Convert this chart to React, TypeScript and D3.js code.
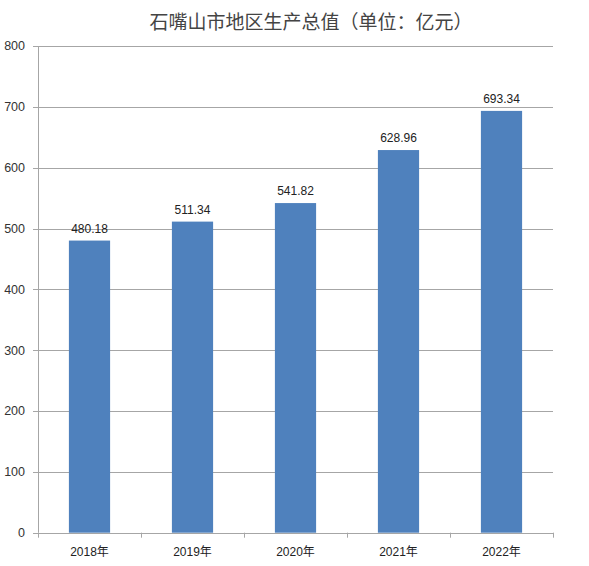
import { useRef, useEffect } from 'react';
import * as d3 from 'd3';

const title = '石嘴山市地区生产总值（单位：亿元）';
const years = ['2018年', '2019年', '2020年', '2021年', '2022年'];
const gdp = [480.18, 511.34, 541.82, 628.96, 693.34];
const yTicks = [0, 100, 200, 300, 400, 500, 600, 700, 800];

const W = 589;
const H = 566;

export default function App() {
  const svgRef = useRef<SVGSVGElement>(null);

  useEffect(() => {
    if (!svgRef.current) return;
    const svg = d3.select(svgRef.current);
    svg.selectAll('*').remove();

    const margin = { top: 46, right: 36, bottom: 33.3, left: 38 };
    const width = W - margin.left - margin.right;
    const chartHeight = H - margin.top - margin.bottom;

    svg.append('rect').attr('width', W).attr('height', H).attr('fill', '#fff');

    // Title
    svg.append('text')
      .attr('x', 311)
      .attr('y', 29)
      .attr('text-anchor', 'middle')
      .attr('font-family', '"Noto Sans CJK SC", sans-serif')
      .attr('font-size', 19)
      .attr('fill', '#444')
      .text(title);

    const g = svg.append('g')
      .attr('transform', `translate(${margin.left},${margin.top})`);

    const xScale = d3.scaleBand<string>()
      .domain(years)
      .range([0, width])
      .paddingInner(0.6)
      .paddingOuter(0.3);

    const yScale = d3.scaleLinear()
      .domain([0, 800])
      .range([chartHeight, 0]);

    // Gridlines
    g.selectAll('.grid')
      .data(yTicks)
      .enter()
      .append('line')
      .attr('x1', -5)
      .attr('x2', width)
      .attr('y1', d => Math.round(yScale(d)) + 0.5)
      .attr('y2', d => Math.round(yScale(d)) + 0.5)
      .attr('stroke', '#a6a6a6')
      .attr('stroke-width', 1);

    // Y tick labels
    g.selectAll('.ylab')
      .data(yTicks)
      .enter()
      .append('text')
      .attr('x', -13)
      .attr('y', d => yScale(d))
      .attr('dy', '0.35em')
      .attr('text-anchor', 'end')
      .attr('font-family', '"Liberation Sans", Arial, sans-serif')
      .attr('font-size', 12.5)
      .attr('fill', '#333')
      .text(d => d);

    // Bars
    g.selectAll('.bar')
      .data(gdp)
      .enter()
      .append('rect')
      .attr('x', (_, i) => xScale(years[i])!)
      .attr('y', d => yScale(d))
      .attr('width', xScale.bandwidth())
      .attr('height', d => chartHeight - yScale(d))
      .attr('fill', '#4f81bd');

    // Data labels
    g.selectAll('.vlab')
      .data(gdp)
      .enter()
      .append('text')
      .attr('x', (_, i) => xScale(years[i])! + xScale.bandwidth() / 2)
      .attr('y', d => yScale(d) - 8)
      .attr('text-anchor', 'middle')
      .attr('font-family', '"Liberation Sans", Arial, sans-serif')
      .attr('font-size', 12)
      .attr('fill', '#222')
      .text(d => d.toFixed(2));

    // Y axis line
    g.append('line')
      .attr('x1', 0.5)
      .attr('x2', 0.5)
      .attr('y1', 0)
      .attr('y2', chartHeight)
      .attr('stroke', '#a6a6a6');

    // X axis line + ticks
    const step = xScale.step();
    const boundaries = d3.range(years.length + 1).map(i => i * step);
    g.append('line')
      .attr('x1', 0)
      .attr('x2', width)
      .attr('y1', Math.round(chartHeight) + 0.5)
      .attr('y2', Math.round(chartHeight) + 0.5)
      .attr('stroke', '#a6a6a6');
    g.selectAll('.xtick')
      .data(boundaries)
      .enter()
      .append('line')
      .attr('x1', d => Math.round(d) + 0.5)
      .attr('x2', d => Math.round(d) + 0.5)
      .attr('y1', chartHeight)
      .attr('y2', chartHeight + 5)
      .attr('stroke', '#a6a6a6');

    // X labels
    g.selectAll('.xlab')
      .data(years)
      .enter()
      .append('text')
      .attr('x', d => xScale(d)! + xScale.bandwidth() / 2)
      .attr('y', chartHeight + 23)
      .attr('text-anchor', 'middle')
      .attr('font-family', '"Liberation Sans", "Noto Sans CJK SC", sans-serif')
      .attr('font-size', 12)
      .attr('fill', '#222')
      .text(d => d);
  }, []);

  return (
    <div style={{ position: 'absolute', left: 0, top: 0 }}>
      <svg ref={svgRef} width={W} height={H} style={{ display: 'block' }} />
    </div>
  );
}
